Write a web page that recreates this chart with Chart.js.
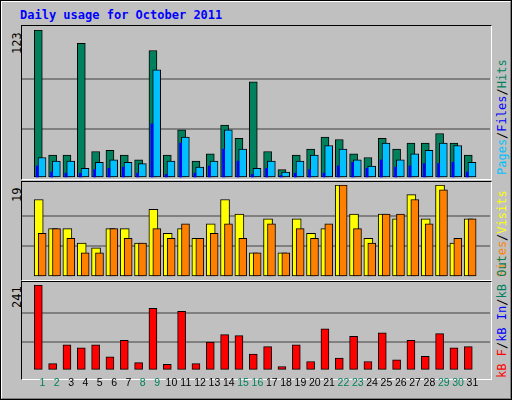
<!DOCTYPE html>
<html><head><meta charset="utf-8">
<script src="https://cdn.jsdelivr.net/npm/chart.js@4"></script>
<style>
html,body{margin:0;padding:0;background:#fff}
#wrap{position:absolute;left:0;top:0;width:510px;height:398px;background:#C0C0C0;border:1px solid #000;overflow:hidden;font-family:"DejaVu Sans Mono",monospace}
#inner{position:absolute;left:0;top:0;width:508px;height:396px;border-top:1px solid #fff;border-left:1px solid #fff;border-right:1px solid #808080;border-bottom:1px solid #808080}
.box{position:absolute;left:20px;width:469px;border-top:1px solid #000;border-left:1px solid #000;border-right:1px solid #fff;border-bottom:1px solid #fff}
canvas{position:absolute}
.t{position:absolute;white-space:nowrap;font-size:12px}
.rot{position:absolute;white-space:nowrap;font-size:12px;transform-origin:0 0;transform:rotate(-90deg)}
</style></head><body>
<div id="wrap"><div id="inner"></div>
<div class="t" style="left:19px;top:7px;color:#0000FF;font-weight:bold">Daily usage for October 2011</div>
<div class="box" style="top:24px;height:153px"></div>
<div class="box" style="top:180px;height:98px"></div>
<div class="box" style="top:280px;height:97px"></div>
<div class="rot" style="left:9px;top:53px;color:#000">123</div>
<div class="rot" style="left:9px;top:201px;color:#000">19</div>
<div class="rot" style="left:9px;top:307px;color:#000">241</div>
<div class="rot" style="left:494px;top:174px"><span style="color:#00C0FF">Pages</span>/<span style="color:#0000FF">Files</span>/<span style="color:#00805C">Hits</span></div>
<div class="rot" style="left:494px;top:276px"><span style="color:#FF8000">Sites</span>/<span style="color:#FFFF00">Visits</span></div>
<div class="rot" style="left:494px;top:377px"><span style="color:#FF0000">kB F</span>/<span style="color:#0000FF">kB In</span>/<span style="color:#00805C">kB Out</span></div>
<canvas id="c1" style="left:21px;top:29px"></canvas>
<canvas id="c2" style="left:21px;top:184px"></canvas>
<canvas id="c3" style="left:21px;top:284px"></canvas>
</div>
<script>
const days=[1,2,3,4,5,6,7,8,9,10,11,12,13,14,15,16,17,18,19,20,21,22,23,24,25,26,27,28,29,30,31];
const weekend=[1,2,8,9,15,16,22,23,29,30];
const hits=[123,19,19,112,22,23,19,15,106,19,40,14,20,44,33,80,22,7,19,24,34,32,20,17,33,24,29,29,37,29,19];
const files=[17,14,14,8,13,15,13,12,90,14,34,9,14,40,24,8,14,5,14,19,27,24,15,10,29,15,20,23,29,27,13];
const pages=[10,5,4,4,7,8,9,4,45,3,29,4,10,24,14,3,8,2,4,7,4,10,13,8,15,9,10,12,12,13,5];
const visits=[16,10,10,7,6,10,10,7,14,9,10,8,11,16,13,5,12,5,12,9,10,19,13,8,13,12,17,12,19,7,12];
const sites=[9,10,8,5,5,10,8,7,10,8,11,8,9,11,8,5,11,5,10,8,11,19,10,7,13,13,16,11,18,8,12];
const kbytes=[241,19,72,64,72,38,85,22,175,17,167,19,80,101,98,46,67,11,72,25,117,35,96,25,106,30,85,40,104,64,67];
const maxTop=123, maxMid=19, maxBot=241;

function pts(vals,off){return vals.map((v,i)=>({x:days[i]+off,y:v}));}
function ds(vals,off,color,w,order,bw){return {data:pts(vals,off),backgroundColor:color,borderColor:'#000',borderWidth:bw,barThickness:w,order:order,borderSkipped:false,grouped:false};}
function make(id,h,datasets,max,showX){
  const c=document.getElementById(id);
  c.width=468;c.height=h;c.style.width='468px';c.style.height=h+'px';
  new Chart(c,{type:'bar',data:{datasets},options:{
    responsive:false,animation:false,devicePixelRatio:1,
    layout:{padding:0},
    plugins:{legend:{display:false},tooltip:{enabled:false}},
    scales:{
      x:{type:'linear',min:0.1,max:31.7,border:{display:false},
         grid:{display:false,drawTicks:false},
         afterBuildTicks:s=>{s.ticks=days.map(d=>({value:d}));},
         ticks:{display:showX,autoSkip:false,maxRotation:0,padding:6,
           font:{family:'Liberation Sans',size:10.5},
           color:ctx=>weekend.includes(ctx.tick.value)?'#00805C':'#000',
           callback:v=>String(v)}},
      y:{min:0,max:max,border:{display:false},
         afterBuildTicks:s=>{s.ticks=[0,max/3,2*max/3,max].map(v=>({value:v}));},
         ticks:{display:false},
         grid:{drawTicks:false,lineWidth:2,color:ctx=>(ctx.index===1||ctx.index===2)?'#808080':'rgba(0,0,0,0)'}}
    }}});
}
make('c1',148,[ds(hits,-0.29,'#00805C',8,3,1),ds(files,-0.03,'#00C0FF',8,2,1),ds(pages,-0.36,'#0000FF',2,1,0)],maxTop,false);
make('c2',92,[ds(visits,-0.26,'#FFFF00',9,2,1),ds(sites,-0.02,'#FF8000',8,1,1)],maxMid,false);
make('c3',110,[ds(kbytes,-0.29,'#FF0000',8,1,1)],maxBot,true);
</script>
</body></html>
